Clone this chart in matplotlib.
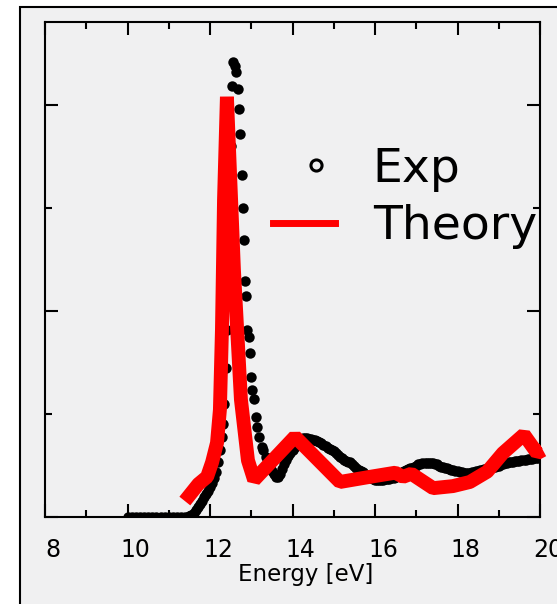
import matplotlib
matplotlib.use("Agg")
import matplotlib.pyplot as plt
import matplotlib.transforms as mtransforms
from matplotlib.lines import Line2D
from matplotlib.patches import Rectangle
from matplotlib.legend_handler import HandlerLine2D
from matplotlib.ticker import MultipleLocator

exp_energy = [
    10.0, 10.1, 10.2, 10.3, 10.4, 10.5, 10.6, 10.7, 10.8, 10.9, 11.0, 11.1, 11.2, 11.3, 11.4, 11.5,
    11.55, 11.6, 11.65, 11.7, 11.75, 11.8, 11.85, 11.9, 11.95, 12.0, 12.05, 12.1, 12.15, 12.2,
    12.25, 12.29, 12.32, 12.35, 12.38, 12.41, 12.44, 12.47, 12.5, 12.53, 12.56, 12.6, 12.63,
    12.68, 12.7, 12.73, 12.78, 12.8, 12.82, 12.85, 12.87, 12.9, 12.94, 12.97, 12.99, 13.02,
    13.07, 13.11, 13.14, 13.19, 13.26, 13.29, 13.35, 13.4, 13.45, 13.5, 13.55, 13.6, 13.65,
    13.7, 13.75, 13.8, 13.85, 13.9, 13.95, 14.0, 14.05, 14.1, 14.15, 14.2, 14.25, 14.3, 14.35,
    14.4, 14.45, 14.5, 14.55, 14.6, 14.65, 14.7, 14.75, 14.8, 14.85, 14.9, 14.95, 15.0, 15.05,
    15.1, 15.15, 15.2, 15.25, 15.3, 15.35, 15.4, 15.45, 15.5, 15.55, 15.6, 15.65, 15.7, 15.75,
    15.8, 15.85, 15.9, 15.95, 16.0, 16.05, 16.1, 16.15, 16.2, 16.25, 16.3, 16.35, 16.4, 16.45,
    16.5, 16.55, 16.6, 16.65, 16.7, 16.75, 16.8, 16.85, 16.9, 16.95, 17.0, 17.05, 17.1, 17.15,
    17.2, 17.25, 17.3, 17.35, 17.4, 17.45, 17.5, 17.55, 17.6, 17.65, 17.7, 17.75, 17.8, 17.85,
    17.9, 17.95, 18.0, 18.05, 18.1, 18.15, 18.2, 18.25, 18.3, 18.35, 18.4, 18.45, 18.5, 18.55,
    18.6, 18.65, 18.7, 18.75, 18.8, 18.85, 18.9, 18.95, 19.0, 19.05, 19.1, 19.15, 19.2, 19.25,
    19.3, 19.35, 19.4, 19.45, 19.5, 19.55, 19.6, 19.65, 19.7, 19.75, 19.8, 19.85, 19.9, 19.95, 20.0,
]
exp_signal = [
    0.0, 0.0, 0.0, 0.0, 0.0, 0.0, 0.0, 0.0, 0.0, 0.0, 0.0, 0.0, 0.0, 0.0, 0.0, 0.01,
    0.02, 0.04, 0.07, 0.10, 0.13, 0.16, 0.19, 0.22, 0.25, 0.29, 0.33, 0.38, 0.44, 0.53,
    0.65, 0.78, 0.90, 1.10, 1.45, 1.82, 2.35, 2.95, 3.60, 4.18, 4.42, 4.38, 4.32,
    4.16, 3.96, 3.72, 3.32, 3.00, 2.69, 2.29, 2.15, 1.82, 1.75, 1.59, 1.36, 1.23,
    1.15, 0.97, 0.87, 0.78, 0.68, 0.65, 0.58, 0.53, 0.49, 0.45, 0.42, 0.39, 0.39,
    0.42, 0.47, 0.51, 0.55, 0.59, 0.62, 0.65, 0.68, 0.71, 0.73, 0.75, 0.77, 0.77, 0.77,
    0.76, 0.76, 0.75, 0.75, 0.74, 0.73, 0.72, 0.70, 0.69, 0.67, 0.66, 0.65, 0.64, 0.62,
    0.60, 0.58, 0.57, 0.55, 0.54, 0.53, 0.53, 0.51, 0.50, 0.48, 0.46, 0.45, 0.44, 0.42,
    0.40, 0.39, 0.38, 0.37, 0.36, 0.36, 0.36, 0.36, 0.36, 0.37, 0.37, 0.37, 0.38, 0.38,
    0.39, 0.41, 0.43, 0.44, 0.45, 0.46, 0.47, 0.48, 0.48, 0.49, 0.50, 0.51, 0.51, 0.52,
    0.52, 0.52, 0.52, 0.52, 0.52, 0.51, 0.51, 0.50, 0.49, 0.49, 0.48, 0.48, 0.47, 0.46,
    0.46, 0.45, 0.45, 0.44, 0.44, 0.43, 0.43, 0.43, 0.43, 0.44, 0.44, 0.45, 0.45, 0.46,
    0.46, 0.47, 0.47, 0.48, 0.48, 0.49, 0.49, 0.50, 0.50, 0.51, 0.51, 0.52, 0.52, 0.53,
    0.53, 0.53, 0.54, 0.54, 0.54, 0.55, 0.55, 0.55, 0.56, 0.56, 0.56, 0.57, 0.57, 0.57, 0.58,
]

# calculated spectrum
theory_energy = [11.39, 11.72, 11.93, 12.05, 12.17, 12.24, 12.29, 12.34, 12.41,
                 12.58, 12.75, 12.92, 13.07, 14.06, 15.15, 15.88, 16.49, 16.68,
                 16.88, 17.41, 17.89, 18.30, 18.72, 19.10, 19.61, 19.93, 20.07]
theory_signal = [0.155, 0.32, 0.39, 0.53, 0.72, 1.04, 1.82, 3.08, 4.08,
                 2.40, 1.14, 0.55, 0.36, 0.78, 0.34, 0.39, 0.43, 0.39,
                 0.42, 0.28, 0.30, 0.34, 0.44, 0.62, 0.80, 0.62, 0.65]

x_ticks = [8, 10, 12, 14, 16, 18, 20]
x_label = "Energy [eV]"
legend_labels = ["Exp", "Theory"]

bg = "#f0f0f1"
W, H = 557, 604

fig = plt.figure(figsize=(W / 100, H / 100), dpi=100, facecolor="white")
# grey panel with its black frame, kept behind the axes
fig.patches.append(Rectangle((20 / W, -0.1), 1.2, 0.1 + (H - 7) / H,
                             transform=fig.transFigure, facecolor=bg,
                             edgecolor="black", linewidth=1.5, zorder=-1))

ax = fig.add_axes([45 / W, 87 / H, 495 / W, 495 / H])
ax.set_facecolor("none")

ax.plot(exp_energy, exp_signal, "o", color="black", markersize=7.5,
        markeredgewidth=0, zorder=2)
ax.plot(theory_energy, theory_signal, color="red", linewidth=10,
        solid_joinstyle="bevel", solid_capstyle="butt", zorder=3, clip_on=False)

ax.set_xlim(8, 20)
ax.set_ylim(0, 4.806)
ax.set_xticks(x_ticks)
ax.xaxis.set_minor_locator(MultipleLocator(1))
ax.yaxis.set_major_locator(MultipleLocator(2))
ax.yaxis.set_minor_locator(MultipleLocator(1))
ax.tick_params(which="both", direction="in", top=True, right=True, width=1.5,
               labelleft=False, labelsize=17, pad=15)
ax.tick_params(which="major", length=9.5)
ax.tick_params(which="minor", length=5)
for spine in ax.spines.values():
    spine.set_linewidth(1.5)

# labels in the original sit a bit right of their ticks
shift = mtransforms.ScaledTranslation(8 / 100, 0, fig.dpi_scale_trans)
for lbl in ax.get_xticklabels():
    lbl.set_transform(lbl.get_transform() + shift)

ax.set_xlabel(x_label, fontsize=16.5)
ax.xaxis.set_label_coords(0.526, -0.093)

exp_handle = Line2D([], [], linestyle="none", marker="o", markerfacecolor="none",
                    markeredgecolor="black", markersize=8, markeredgewidth=2.2)
th_handle = Line2D([], [], color="red", linewidth=5)
ax.legend([exp_handle, th_handle], legend_labels, loc="upper left",
          bbox_to_anchor=(0.4606, 0.7475), frameon=False, fontsize=34,
          borderpad=0, borderaxespad=0, handlelength=1.31, handletextpad=0.8,
          labelspacing=0.26,
          handler_map={exp_handle: HandlerLine2D(numpoints=1, xpad=0.5)})

fig.savefig("out.png", dpi=100, facecolor="white")
